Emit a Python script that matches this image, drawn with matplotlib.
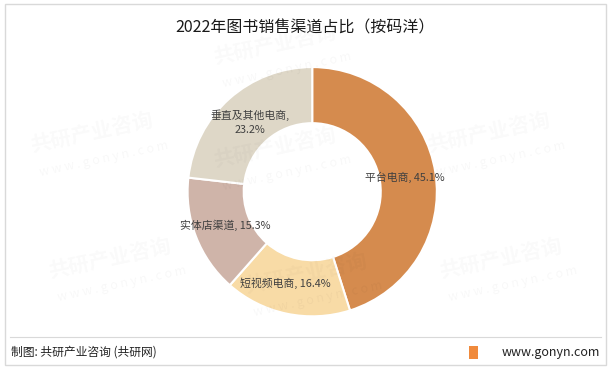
import numpy as np
import matplotlib.pyplot as plt
from matplotlib.patches import Rectangle

plt.rcParams['font.family'] = ['Noto Sans CJK SC', 'DejaVu Sans']

# data
channels = ['平台电商', '短视频电商', '实体店渠道', '垂直及其他电商']
shares = [45.1, 16.4, 15.3, 23.2]
colors = ['#D58B4E', '#F8DBA6', '#CFB4A9', '#DED7C7']
title = '2022年图书销售渠道占比（按码洋）'
source = '制图: 共研产业咨询 (共研网)'
site = 'www.gonyn.com'

fig = plt.figure(figsize=(6.11, 3.69), dpi=100)
fig.patch.set_facecolor('white')

# outer border + footer line
fig.add_artist(Rectangle((0.008, 0.012), 0.984, 0.976, transform=fig.transFigure,
                         fill=False, edgecolor='#D9D9D9', lw=1.0))
fig.add_artist(plt.Line2D([0.016, 0.984], [0.087, 0.087], transform=fig.transFigure,
                          color='#D9D9D9', lw=0.8))

# faint watermarks
for wx, wy in [(0.15, 0.64), (0.45, 0.60), (0.80, 0.64),
               (0.18, 0.30), (0.50, 0.26), (0.82, 0.30), (0.45, 0.88)]:
    fig.text(wx, wy, '共研产业咨询', fontsize=15, fontweight='bold', color='#000000',
             alpha=0.025, rotation=12, ha='center', va='center')
    fig.text(wx + 0.02, wy - 0.07, 'w w w . g o n y n . c o m', fontsize=9,
             color='#000000', alpha=0.03, rotation=12, ha='center', va='center')

ax = fig.add_axes([0.305, 0.139, 0.412, 0.683])
wedges, _ = ax.pie(shares, colors=colors, startangle=90, counterclock=False,
                   radius=1.0, wedgeprops=dict(width=0.45, edgecolor='white', linewidth=1.5))
ax.set_xlim(-1.01, 1.01)
ax.set_ylim(-1.01, 1.01)
ax.set_aspect('equal')

for w, name, val in zip(wedges, channels, shares):
    ang = np.deg2rad((w.theta1 + w.theta2) / 2)
    x, y = 0.75 * np.cos(ang), 0.75 * np.sin(ang)
    if name == '垂直及其他电商':
        txt = f'{name},\n{val:.1f}%'
    else:
        txt = f'{name}, {val:.1f}%'
    if name == '短视频电商':
        x -= 0.06
    ax.text(x, y, txt, ha='center', va='center', fontsize=7.8, color='#404040',
            linespacing=1.5)

fig.text(0.5, 0.925, title, ha='center', va='center', fontsize=11.5, color='#1a1a1a')
fig.text(0.018, 0.045, source, ha='left', va='center', fontsize=8.5, color='#222222')
fig.text(0.982, 0.045, site, ha='right', va='center', fontsize=9, color='#222222')
fig.add_artist(Rectangle((0.767, 0.028), 0.016, 0.034, transform=fig.transFigure,
                         facecolor='#F08A3C', edgecolor='none'))

fig.savefig('out.png', dpi=100)
